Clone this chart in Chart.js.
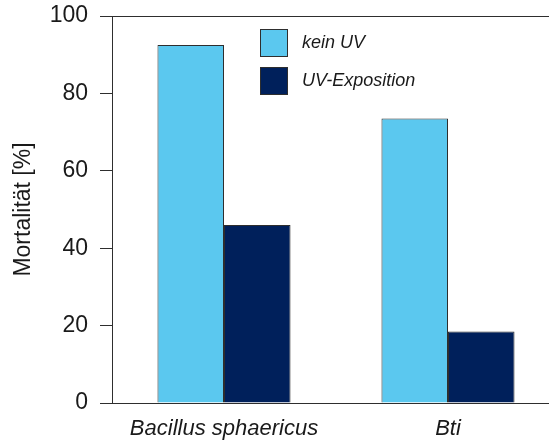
<!DOCTYPE html>
<html>
<head>
<meta charset="utf-8">
<script src="https://cdn.jsdelivr.net/npm/chart.js@4"></script>
<style>
  html, body { margin: 0; padding: 0; background: #fff; overflow: hidden; }
  /* plot runs a little past the right edge, like the cropped original */
  #wrap { width: 560px; height: 442px; }
</style>
</head>
<body>
<div id="wrap"><canvas id="mortChart"></canvas></div>
<script>
// data
const categories = ['Bacillus sphaericus', 'Bti'];
const keinUV = [92.5, 73.5];
const uvExposition = [46, 18.5];
const seriesNames = ['kein UV', 'UV-Exposition'];
const yTicks = [0, 20, 40, 60, 80, 100];

const lineColor = '#2e2e2e';
const textColor = '#1a1a1a';

// simple legend drawn inside the plot, top middle
const boxLegend = {
  id: 'boxLegend',
  afterDraw(chart) {
    const ctx = chart.ctx;
    const x = 260, y0 = 29, size = 28, gap = 38;
    ctx.save();
    chart.data.datasets.forEach((ds, i) => {
      const y = y0 + i * gap;
      ctx.fillStyle = ds.backgroundColor;
      ctx.fillRect(x, y, size, size);
      ctx.strokeStyle = lineColor;
      ctx.lineWidth = 1;
      ctx.strokeRect(x + 0.5, y + 0.5, size - 1, size - 1);
      ctx.fillStyle = textColor;
      ctx.font = 'italic 18px "Liberation Sans", Arial, sans-serif';
      ctx.textBaseline = 'middle';
      ctx.fillText(ds.label, x + 42, y + size / 2);
    });
    ctx.restore();
  }
};

new Chart(document.getElementById('mortChart'), {
  type: 'bar',
  data: {
    labels: categories,
    datasets: [{
      label: seriesNames[0],
      data: keinUV,
      backgroundColor: '#5bc8ef',
      borderColor: lineColor,
      borderWidth: 1,
      categoryPercentage: 0.594,
      barPercentage: 1
    }, {
      label: seriesNames[1],
      data: uvExposition,
      backgroundColor: '#00205b',
      borderColor: lineColor,
      borderWidth: 1,
      categoryPercentage: 0.594,
      barPercentage: 1
    }]
  },
  options: {
    responsive: true,
    maintainAspectRatio: false,
    animation: false,
    layout: { padding: { top: 16, right: 0, left: 0, bottom: 0 } },
    plugins: {
      legend: { display: false },
      tooltip: { enabled: false }
    },
    scales: {
      x: {
        grid: { display: false },
        border: { color: lineColor, width: 1 },
        ticks: {
          color: textColor,
          padding: 5,
          maxRotation: 0,
          font: { family: '"Liberation Sans", Arial, sans-serif', size: 22, style: 'italic' }
        },
        afterFit(scale) { scale.height = 39; }
      },
      x2: {
        position: 'top',
        grid: { display: false },
        border: { color: lineColor, width: 1 },
        ticks: { display: false },
        afterFit(scale) { scale.height = 0; }
      },
      y: {
        min: 0,
        max: 100,
        afterBuildTicks(scale) { scale.ticks = yTicks.map(v => ({ value: v })); },
        grid: { drawOnChartArea: false, drawTicks: true, tickLength: 12, color: lineColor },
        border: { color: lineColor, width: 1 },
        ticks: {
          color: textColor,
          padding: 12,
          font: { family: '"Liberation Sans", Arial, sans-serif', size: 23 }
        },
        title: {
          display: true,
          text: 'Mortalität [%]',
          color: textColor,
          padding: { top: 10, bottom: 0 },
          font: { family: '"Liberation Sans", Arial, sans-serif', size: 23 }
        },
        afterFit(scale) {
          scale.width = 112;
          scale.paddingTop = 0;
          scale.paddingBottom = 0;
        }
      }
    }
  },
  plugins: [boxLegend]
});
</script>
</body>
</html>
